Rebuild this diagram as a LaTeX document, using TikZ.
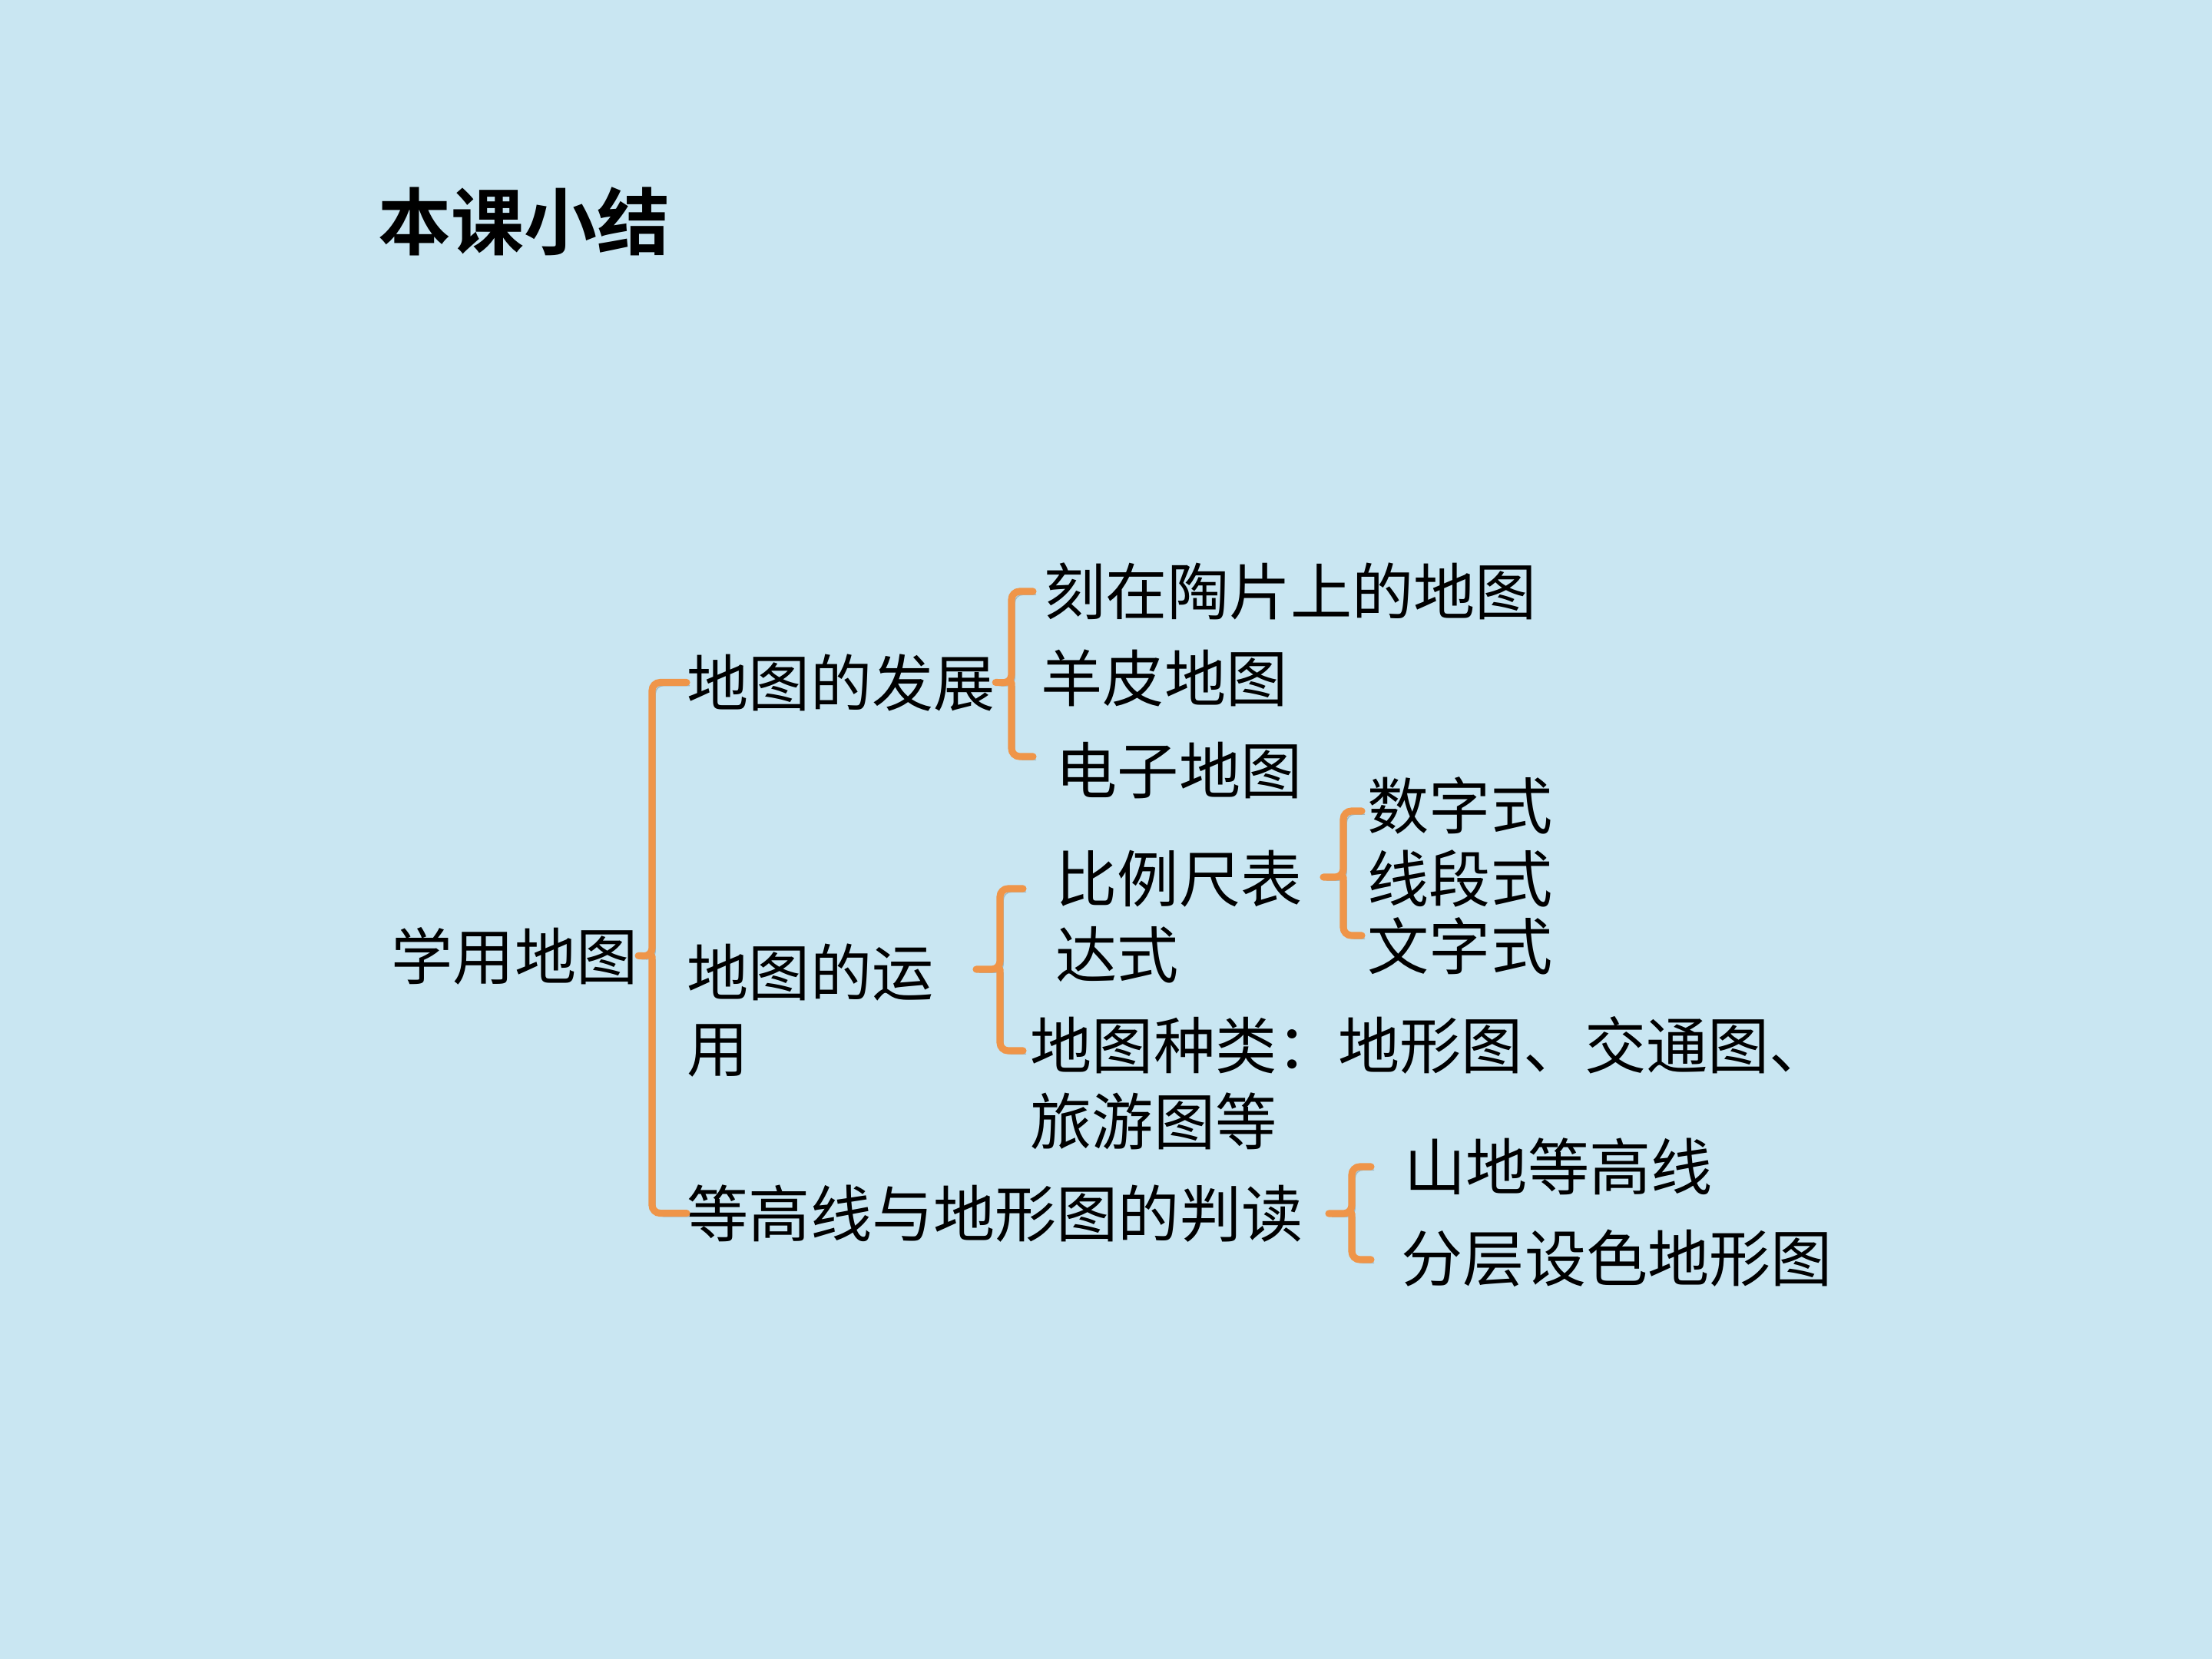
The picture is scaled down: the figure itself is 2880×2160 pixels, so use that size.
\documentclass[tikz,border=0pt]{standalone}
\usepackage{fontspec}
\setmainfont{Noto Sans CJK SC}[BoldFont={Noto Sans CJK SC Bold}]
\definecolor{mbg}{HTML}{C9E6F2}
\definecolor{morange}{HTML}{EF9549}
\tikzstyle{title} = [anchor=base west, inner sep=0pt, font=\fontsize{27pt}{32pt}\selectfont\bfseries]
\tikzstyle{item} = [anchor=base west, inner sep=0pt, align=left, font=\fontsize{22.8pt}{28.1pt}\selectfont]
\tikzstyle{brace} = [draw=morange, line width=2.6pt, rounded corners=3pt, line cap=round,
  preaction={draw=black, opacity=0.2, transform canvas={xshift=1.2pt, yshift=-1.2pt}}]

\begin{document}
\begin{tikzpicture}[x=0.01cm, y=-0.01cm]
  \fill[mbg] (0,0) rectangle (2880,2160);
  \useasboundingbox (0,0) rectangle (2880,2160);

  \node (title) [title] at (492,324) {本课小结};

  % two-line nodes sit on the baseline of their last line
  \node (xueyong) [item] at (509,1275) {学用地图};
  \node (fazhan) [item] at (894,919) {地图的发展};
  \node (kezai) [item] at (1359,800) {刻在陶片上的地图};
  \node (yangpi) [item] at (1355,913) {羊皮地图};
  \node (dianzi) [item] at (1374,1033) {电子地图};
  \node (yunyong) [item] at (894,1395) {地图的运\\用};
  \node (bili) [item] at (1374,1273) {比例尺表\\达式};
  \node (shuzi) [item] at (1780,1079) {数字式};
  \node (xianduan) [item] at (1780,1174) {线段式};
  \node (wenzi) [item] at (1780,1262) {文字式};
  \node (zhonglei) [item] at (1341,1490) {地图种类：地形图、交通图、\\旅游图等};
  \node (pandu) [item] at (894,1610) {等高线与地形图的判读};
  \node (shandi) [item] at (1828,1549) {山地等高线};
  \node (fenceng) [item] at (1824,1668) {分层设色地形图};

  % main brace
  \coordinate (m0) at (849,1245);
  \draw [brace] (fazhan.west) -| (m0) -- (xueyong.east);
  \draw [brace] (m0) |- (pandu.west);

  % development
  \coordinate (m1) at (1317,889);
  \coordinate (k1t) at (1345,770);
  \coordinate (k1b) at (1345,985);
  \draw [brace] (k1t) -| (m1) -- (fazhan.east);
  \draw [brace] (m1) |- (k1b);

  % use
  \coordinate (m2) at (1302,1262);
  \coordinate (k2t) at (1332,1157);
  \coordinate (k2b) at (1332,1368);
  \coordinate (k2m) at (1271,1262);
  \draw [brace] (k2t) -| (m2) -- (k2m);
  \draw [brace] (m2) |- (k2b);

  % scale
  \coordinate (m3) at (1749,1142);
  \coordinate (k3t) at (1773,1056);
  \coordinate (k3b) at (1773,1218);
  \coordinate (k3m) at (1723,1142);
  \draw [brace] (k3t) -| (m3) -- (k3m);
  \draw [brace] (m3) |- (k3b);

  % contour
  \coordinate (m4) at (1760,1580);
  \coordinate (k4t) at (1785,1519);
  \coordinate (k4b) at (1785,1640);
  \coordinate (k4m) at (1730,1580);
  \draw [brace] (k4t) -| (m4) -- (k4m);
  \draw [brace] (m4) |- (k4b);
\end{tikzpicture}
\end{document}
